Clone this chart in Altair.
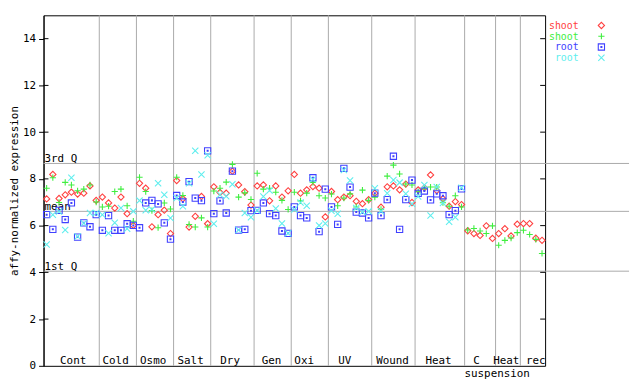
import altair as alt
import pandas as pd

FONT = "DejaVu Sans Mono"

# ---- data ----
group_labels = ["Cont", "Cold", "Osmo", "Salt", "Dry", "Gen", "Oxi", "UV",
                "Wound", "Heat", "C", "Heat rec"]
group_label_pos = [4.28, 11.14, 17.2, 23.25, 29.63, 36.33, 41.59, 48.13,
                   55.86, 63.28, 69.43, 76.35]
sublabel = ["suspension"]
sublabel_pos = [72.76]
group_sizes = [9, 6, 6, 6, 7, 6, 6, 7, 7, 8, 5, 4, 4]

shoot_a = [7.14, 8.19, 7.16, 7.32, 7.43, 7.35, 7.39, 7.70, 7.08,
           7.22, 6.97, 6.75, 7.22, 6.51, 6.01,
           7.81, 7.60, 5.95, 6.47, 6.66, 5.66,
           7.93, 7.15, 5.94, 6.40, 7.25, 6.08,
           7.66, 7.42, 7.39, 8.33, 7.74, 7.45, 6.88,
           7.70, 7.74, 7.06, 7.70, 7.22, 7.49,
           8.19, 7.39, 7.53, 7.67, 7.60, 6.37,
           7.46, 7.11, 7.22, 7.28, 7.04, 6.94, 7.11,
           7.39, 6.79, 7.66, 7.70, 7.53, 7.78, 6.99,
           7.53, 7.62, 8.17, 7.50, 7.15, 6.83, 7.03, 6.90,
           5.78, 5.66, 5.58, 5.99, 5.45,
           5.66, 5.87, 5.56, 6.06, 6.09, 6.09, 5.46, 5.37]
shoot_b = [7.60, 8.05, 6.99, 7.85, 7.74, 7.49, 7.56, 7.74, 7.01,
           6.80, 6.83, 7.46, 7.56, 6.85, 6.19,
           8.07, 7.46, 6.64, 5.91, 6.97, 6.71,
           8.07, 7.29, 6.05, 5.94, 6.33, 5.94,
           7.48, 7.60, 7.86, 8.62, 7.22, 7.40, 7.12,
           8.24, 7.56, 7.60, 7.43, 7.08, 6.69,
           7.43, 7.06, 7.39, 7.85, 7.28, 7.18,
           7.35, 6.85, 7.18, 7.36, 6.80, 7.52, 7.08,
           7.22, 6.69, 8.12, 8.59, 8.21, 7.78, 7.74,
           7.45, 7.58, 7.65, 7.65, 6.98, 6.83, 7.28, 6.80,
           5.81, 5.88, 5.77, 5.66, 5.99,
           5.16, 5.37, 5.47, 5.70, 5.80, 5.62, 5.41, 4.81]
root_a = [6.47, 5.84, 6.65, 6.26, 6.97, 5.51, 6.12, 5.95, 6.47,
          5.80, 6.43, 5.80, 5.80, 6.08, 6.01,
          5.91, 6.97, 7.08, 6.93, 6.12, 5.42,
          7.29, 7.01, 7.88, 7.18, 7.07, 9.20,
          6.51, 7.06, 6.54, 8.33, 5.81, 5.84, 6.64,
          6.65, 6.97, 6.51, 6.43, 5.77, 5.67,
          6.80, 6.43, 6.33, 8.05, 5.74, 7.56,
          6.80, 6.05, 8.45, 7.65, 6.58, 6.54, 6.33,
          7.39, 6.43, 7.11, 8.97, 5.84, 7.11, 7.95,
          7.38, 7.48, 7.10, 7.36, 7.28, 6.47, 6.64, 7.57]
root_b = [5.19, 6.47, 6.60, 5.81, 8.05, 5.53, 6.10, 6.54, 6.54,
          6.47, 5.67, 6.12, 6.75, 5.87, 6.61,
          7.07, 6.66, 6.69, 7.81, 7.32, 6.33,
          7.18, 6.83, 7.81, 9.20, 8.19, 9.01,
          6.08, 7.32, 7.26, 7.77, 5.81, 6.54, 6.36,
          6.65, 7.25, 7.50, 6.73, 6.09, 5.67,
          6.69, 6.99, 6.85, 7.98, 6.01, 6.09,
          6.64, 6.51, 8.38, 7.93, 6.75, 6.58, 6.61,
          7.60, 6.62, 7.39, 7.95, 7.84, 7.36, 6.94,
          7.25, 7.74, 6.43, 7.65, 6.97, 6.17, 6.36, 7.62]

q_names = ["3rd Q", "mean", "1st Q"]
q_values = [8.66, 6.61, 4.05]
y_ticks = [0, 2, 4, 6, 8, 10, 12, 14]

legend_names = ["shoot", "shoot", "root", "root"]
legend_colors = ["#ff4040", "#40ee40", "#4040ff", "#60eeee"]

# ---- styles ----
PLUS = "M-1,0L1,0M0,-1L0,1"
CROSS = "M-1,-1L1,1M-1,1L1,-1"
SQUARE = "M-1,-1L1,-1L1,1L-1,1Z M-0.15,-0.15L0.15,-0.15L0.15,0.15L-0.15,0.15Z"
shapes = ["diamond", PLUS, SQUARE, CROSS]
series = [shoot_a, shoot_b, root_a, root_b]

W, H = 508, 355
n = sum(group_sizes)
xscale = alt.Scale(domain=[-0.5, n - 0.5], nice=False, zero=False)
yscale = alt.Scale(domain=[0, 15], nice=False, zero=False)
yaxis = alt.Axis(values=y_ticks, tickSize=5, tickColor="black", domainColor="black",
                 labelFont=FONT, labelFontSize=11, labelColor="black", labelPadding=3,
                 title="affy-normalized expression", titleFont=FONT, titleFontSize=11,
                 titleFontWeight="normal", titleColor="black", titlePadding=3,
                 grid=False, format="d")

bounds = []
c = 0
for s in group_sizes[:-1]:
    c += s
    bounds.append(c - 0.5)

sep = alt.Chart(pd.DataFrame({"b": bounds})).mark_rule(color="#aaaaaa", strokeWidth=1).encode(
    x=alt.X("b:Q", scale=xscale, axis=None), y=alt.value(0), y2=alt.value(H))

qdf = pd.DataFrame({"name": q_names, "v": q_values})
qlines = alt.Chart(qdf).mark_rule(color="#aaaaaa", strokeWidth=1).encode(
    y=alt.Y("v:Q", scale=yscale, axis=yaxis), x=alt.value(0), x2=alt.value(593))
qtext = alt.Chart(qdf).mark_text(align="left", baseline="alphabetic", dx=1, dy=-1.5,
                                 font=FONT, fontSize=11, color="black").encode(
    y=alt.Y("v:Q", scale=yscale), x=alt.value(0), text="name:N")

tdf = pd.DataFrame({"t": y_ticks[1:]})
inner_l = alt.Chart(tdf).mark_rule(color="black").encode(
    y=alt.Y("t:Q", scale=yscale), x=alt.value(0), x2=alt.value(5))
inner_r = alt.Chart(tdf).mark_rule(color="black").encode(
    y=alt.Y("t:Q", scale=yscale), x=alt.value(W - 5), x2=alt.value(W))

layers = [sep, qlines, qtext, inner_l, inner_r]

for vals, shp, col in zip(series, shapes, legend_colors):
    df = pd.DataFrame({"idx": list(range(len(vals))), "value": vals})
    layers.append(alt.Chart(df).mark_point(shape=shp, filled=False, color=col,
                                           strokeWidth=1.1, size=40, opacity=1).encode(
        x=alt.X("idx:Q", scale=xscale, axis=None),
        y=alt.Y("value:Q", scale=yscale)))

gl = pd.DataFrame({"label": group_labels, "pos": group_label_pos})
layers.append(alt.Chart(gl).mark_text(align="center", baseline="alphabetic", font=FONT,
                                      fontSize=11, color="black").encode(
    x=alt.X("pos:Q", scale=xscale), y=alt.value(H - 1.5), text="label:N"))
sl = pd.DataFrame({"label": sublabel, "pos": sublabel_pos})
layers.append(alt.Chart(sl).mark_text(align="center", baseline="alphabetic", font=FONT,
                                      fontSize=11, color="black").encode(
    x=alt.X("pos:Q", scale=xscale), y=alt.value(H + 11), text="label:N"))

# legend (drawn at the right of the frame)
for i, (nm, col, shp) in enumerate(zip(legend_names, legend_colors, shapes)):
    ldf = pd.DataFrame({"name": [nm]})
    layers.append(alt.Chart(ldf).mark_text(align="right", baseline="alphabetic", font=FONT,
                                           fontSize=10, color=col).encode(
        x=alt.value(542), y=alt.value(14 + 10.7 * i), text="name:N"))
    layers.append(alt.Chart(ldf).mark_point(shape=shp, filled=False, color=col,
                                            strokeWidth=1.1, size=40, opacity=1).encode(
        x=alt.value(565), y=alt.value(10.3 + 10.9 * i)))

chart = alt.layer(*layers).properties(
    width=W, height=H,
    autosize=alt.AutoSizeParams(type="none"),
    padding={"left": 36, "top": 5, "right": 88, "bottom": 16},
    background="white",
).configure_view(stroke="black", strokeWidth=1)

chart.save("out.html", embed_options={"renderer": "svg", "actions": False})
